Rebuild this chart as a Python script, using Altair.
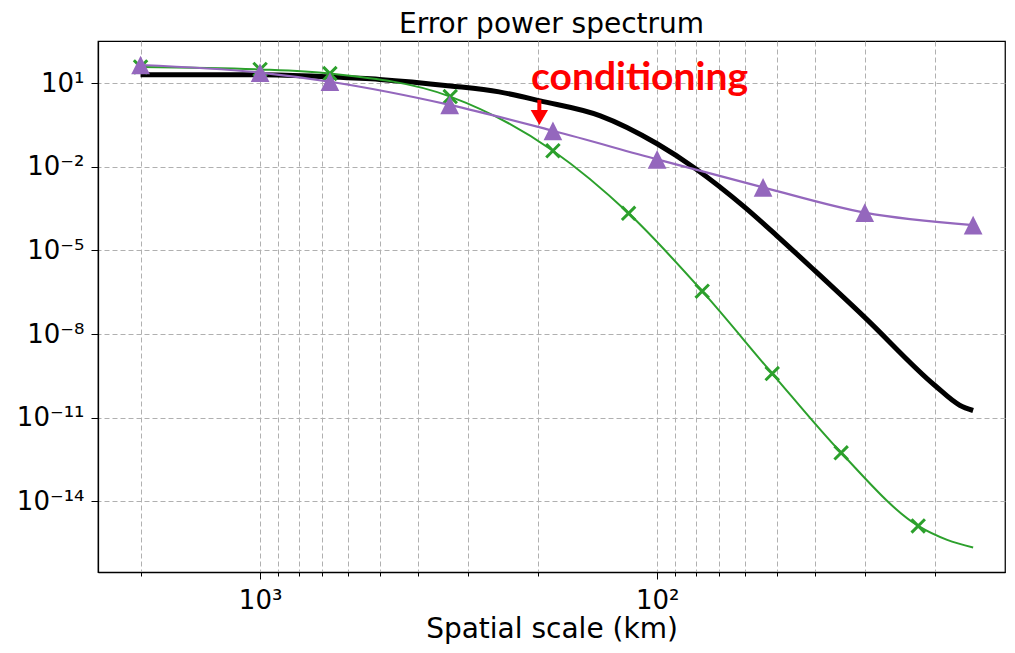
import altair as alt
import pandas as pd

# ---- data (x: spatial scale in km, y: error power) ----
black_L = [2000, 1000, 667, 500, 332, 250, 197, 139, 100, 80, 60, 50, 40, 30, 20, 17.3, 16]
black_P = [20, 20, 16.8, 13.7, 8.0, 4.88, 2.32, 0.675, 0.0671, 8.55e-3, 3.43e-4, 3.41e-5,
           1.83e-6, 3.95e-8, 1.45e-10, 2.79e-11, 1.8e-11]

green_L = [2000, 1000, 667, 332, 183, 118, 77, 51.3, 34.4, 22]
green_P = [38.4, 31.2, 22.1, 3.31, 0.0377, 2.14e-4, 3.45e-7, 3.8e-10, 5.47e-13, 1.3e-15]
green_tail_L = [18.6, 16]
green_tail_P = [4.1e-16, 2.17e-16]

purple_L = [2000, 1000, 667, 333, 183, 100, 54.1, 30, 16]
purple_P = [45, 24, 11.3, 1.67, 0.196, 0.0185, 1.83e-3, 2.27e-4, 8.1e-5]

x_ticks = [2000, 1000, 900, 800, 700, 600, 500, 400, 300, 200,
           100, 90, 80, 70, 60, 50, 40, 30, 20]
x_major = {1000: "10³", 100: "10²"}
y_exps = [1, -2, -5, -8, -11, -14]
y_labels = ["10¹", "10⁻²", "10⁻⁵", "10⁻⁸", "10⁻¹¹", "10⁻¹⁴"]

annot_text = "conditioning"
annot_L, annot_P = 207.7, 5.52
arrow_L, arrow_top, arrow_bot, arrow_head = 198, 2.52, 0.865, 0.591

# ---- tables ----
black_df = pd.DataFrame({"L": black_L, "P": black_P})
green_mk = pd.DataFrame({"L": green_L, "P": green_P})
green_line = pd.concat([green_mk, pd.DataFrame({"L": green_tail_L, "P": green_tail_P})])
purple_df = pd.DataFrame({"L": purple_L, "P": purple_P})
annot_df = pd.DataFrame({"L": [annot_L], "P": [annot_P], "t": [annot_text]})
arrow_df = pd.DataFrame({"L": [arrow_L], "P": [arrow_top], "P2": [arrow_bot], "H": [arrow_head]})

FONT = "DejaVu Sans"
GRID = "#b0b0b0"

x_expr = " : ".join(f"datum.value == {k} ? '{v}'" for k, v in x_major.items()) + " : ''"
y_expr = " : ".join(f"round(log(datum.value)/LN10) == {e} ? '{lab}'"
                    for e, lab in zip(y_exps, y_labels)) + " : ''"
major_test = " || ".join(f"datum.value == {k}" for k in x_major)

xscale = alt.Scale(type="log", domain=[13.3, 2560], reverse=True, nice=False, zero=False)
yscale = alt.Scale(type="log", domain=[10 ** -16.54, 10 ** 2.514], nice=False, zero=False)

xaxis = alt.Axis(
    values=x_ticks, labelExpr=x_expr, grid=True, gridColor=GRID, gridDash=[5, 3], gridWidth=1,
    tickSize={"condition": {"test": major_test, "value": 7}, "value": 4},
    tickColor="black", tickWidth=1, domainColor="black", domainWidth=1.25,
    labelFont=FONT, labelFontSize=26, labelPadding=8, labelColor="black",
    labelFlush=False, labelOverlap=False, labelBound=False,
    titleFont=FONT, titleFontSize=28, titleFontWeight="normal", titlePadding=2, titleColor="black",
)
yaxis = alt.Axis(
    values=[10.0 ** e for e in y_exps], labelExpr=y_expr, grid=True, gridColor=GRID,
    gridDash=[5, 3], gridWidth=1, tickSize=7, tickColor="black", tickWidth=1,
    domainColor="black", domainWidth=1.25,
    labelFont=FONT, labelFontSize=26, labelPadding=7, labelColor="black",
    labelFlush=False, labelOverlap=False, labelBound=False,
)


def X(field="L"):
    return alt.X(f"{field}:Q", scale=xscale, axis=xaxis, title="Spatial scale (km)")


def Y(field="P"):
    return alt.Y(f"{field}:Q", scale=yscale, axis=yaxis, title=None)


order = alt.Order("L:Q", sort="descending")

black = alt.Chart(black_df).mark_line(color="black", strokeWidth=5, interpolate="monotone").encode(
    x=X(), y=Y(), order=order)
green_l = alt.Chart(green_line).mark_line(color="#2ca02c", strokeWidth=2, interpolate="monotone").encode(
    x=X(), y=Y(), order=order)
green_m = alt.Chart(green_mk).mark_point(
    shape="M-1,-1L1,1M-1,1L1,-1", filled=False, color="#2ca02c", strokeWidth=3, size=180, opacity=1
).encode(x=X(), y=Y())
purple_l = alt.Chart(purple_df).mark_line(color="#9467bd", strokeWidth=2.2, interpolate="monotone").encode(
    x=X(), y=Y(), order=order)
purple_m = alt.Chart(purple_df).mark_point(
    shape="M0,-1L-1,1L1,1Z", filled=True, color="#9467bd", size=350, opacity=1
).encode(x=X(), y=Y())

annot = alt.Chart(annot_df).mark_text(
    align="left", baseline="alphabetic", font="Lato", fontWeight="bold", fontSize=39, color="#ff0000"
).encode(x=X(), y=Y(), text="t:N")
shaft = alt.Chart(arrow_df).mark_rule(color="#ff0000", strokeWidth=4).encode(
    x=X(), y=Y(), y2="P2:Q")
head = alt.Chart(arrow_df).mark_point(
    shape="triangle-down", filled=True, color="#ff0000", size=300, opacity=1
).encode(x=X(), y=Y("H"))

chart = alt.layer(black, green_l, green_m, purple_l, purple_m, shaft, head, annot).properties(
    width=907, height=531,
    padding={"left": 90, "top": 33, "right": 2, "bottom": 73},
    autosize=alt.AutoSizeParams(type="none"),
    background="white",
    title=alt.TitleParams("Error power spectrum", font=FONT, fontSize=28, fontWeight="normal",
                          anchor="middle", baseline="alphabetic", offset=12, dy=32, color="black"),
).configure_view(stroke="black", strokeWidth=1.25)

chart.save("out.html", embed_options={"renderer": "svg", "actions": False})
